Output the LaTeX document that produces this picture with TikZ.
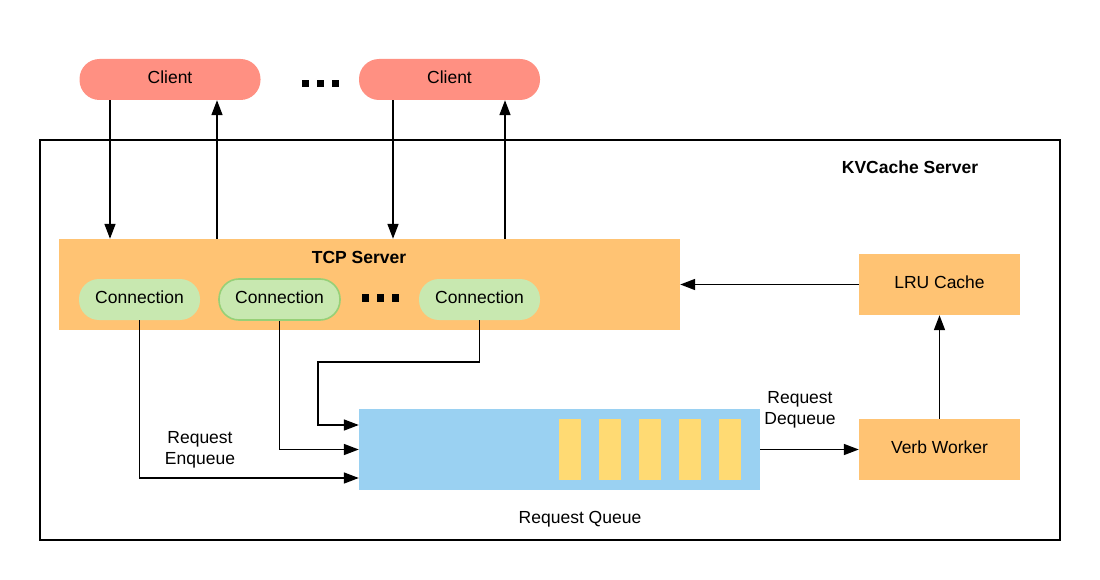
\documentclass[tikz,border=0pt]{standalone}
\usepackage{fontspec}
\setmainfont{Liberation Sans}
\usetikzlibrary{arrows.meta}

\definecolor{clientc}{HTML}{FF9082}
\definecolor{tcpc}{HTML}{FFC373}
\definecolor{connc}{HTML}{C8E8B0}
\definecolor{connline}{HTML}{97D077}
\definecolor{queuec}{HTML}{9AD1F2}
\definecolor{barc}{HTML}{FFDA73}

\begin{document}
\begin{tikzpicture}[x=1pt,y=-1pt,
    every node/.style={font=\fontsize{17.5}{21}\selectfont,inner sep=0pt},
    client/.style={fill=clientc,minimum width=181pt,minimum height=41pt,rounded corners=20pt,text depth=4pt},
    conn/.style={fill=connc,minimum width=121pt,minimum height=41pt,rounded corners=20pt,text depth=4pt},
    block/.style={fill=tcpc,minimum width=161pt,minimum height=61pt,text depth=4pt},
    seta/.style={-{Triangle[length=15pt,width=11pt]},line width=1.6pt}]
    \useasboundingbox (0,0) rectangle (1100,580);

    % KVCache server
    \draw[line width=1.6pt] (40,140) rectangle (1060,540);
    \node[font=\fontsize{17.5}{21}\selectfont\bfseries] (kvlabel) at (910,167) {KVCache Server};

    % clients
    \node[client] (c1) at (170,79.5) {Client};
    \node[client] (c2) at (449.5,79.5) {Client};
    \foreach \dx in {0,15,30} \fill (302+\dx,80) rectangle ++(7,7);

    % TCP server
    \node[fill=tcpc,minimum width=621pt,minimum height=91pt] (tcp) at (369.5,284.5) {};
    \node[font=\fontsize{17.5}{21}\selectfont\bfseries] (tcplabel) at (359,257) {TCP Server};
    \node[conn] (con1) at (139.5,299.5) {Connection};
    \node[conn,draw=connline,line width=1.6pt] (con2) at (279.5,299.5) {Connection};
    \node[conn] (con3) at (479.5,299.5) {Connection};
    \foreach \dx in {0,15,30} \fill (362+\dx,294) rectangle ++(7,8);

    % queue
    \node[fill=queuec,minimum width=401pt,minimum height=81pt] (queue) at (559.5,449.5) {};
    \foreach \i in {0,...,4} \fill[barc] ({559+40*\i},419) rectangle ++(22,61);
    \node (qlabel) at (580,519) {Request Queue};

    % cache and worker
    \node[block] (lru) at (939.5,284.5) {LRU Cache};
    \node[block] (verb) at (939.5,449.5) {Verb Worker};

    % client <-> tcp
    \coordinate (x1) at (110,0);
    \coordinate (x2) at (217,0);
    \coordinate (x3) at (393,0);
    \coordinate (x4) at (505,0);
    \draw[seta] (c1.south -| x1) -- (tcp.north -| x1);
    \draw[seta] (tcp.north -| x2) -- (c1.south -| x2);
    \draw[seta] (c2.south -| x3) -- (tcp.north -| x3);
    \draw[seta] (tcp.north -| x4) -- (c2.south -| x4);

    % enqueue
    \coordinate (bend3) at (318,362);
    \draw[seta] (con1.south) |- ([yshift=-28.5pt]queue.west);
    \draw[seta] (con2.south) |- (queue.west);
    \draw[seta] (con3.south) |- (bend3) |- ([yshift=24.5pt]queue.west);
    \node[align=center] (enq) at (200,450) {Request\\Enqueue};

    % dequeue
    \draw[seta] (queue.east) -- (verb.west);
    \node[align=center] (deq) at (800,410) {Request\\Dequeue};
    \draw[seta] (verb.north) -- (lru.south);
    \draw[seta] (lru.west) -- (lru.west -| tcp.east);
\end{tikzpicture}
\end{document}
